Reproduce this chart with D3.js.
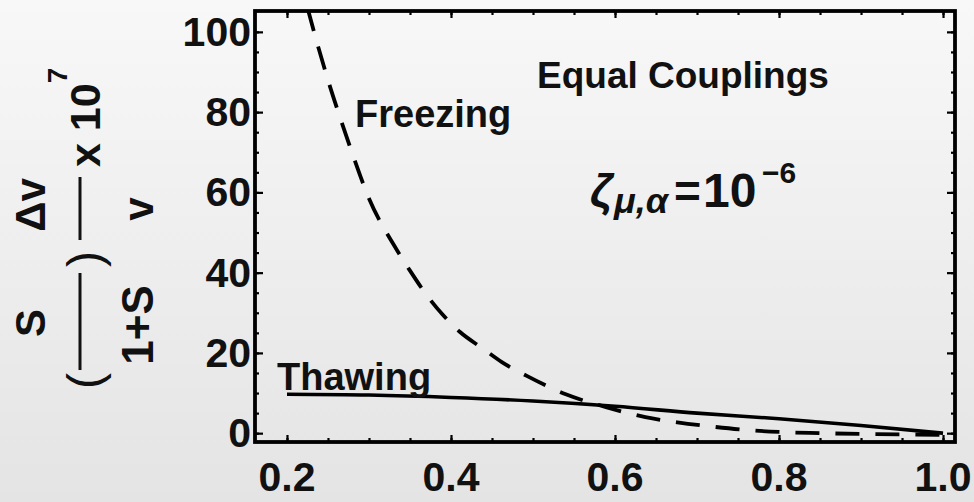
<!DOCTYPE html>
<html lang="en">
<head>
<meta charset="utf-8" />
<title>Equal Couplings</title>
<script src="https://d3js.org/d3.v7.min.js"></script>
<style>
  body { margin: 0; background: #eee; overflow: hidden; }
  svg text { font-family: "Liberation Sans", Arial, Helvetica, sans-serif; font-weight: bold; fill: #111; }
</style>
</head>
<body>
<script>
// scale factor a (x) and the relative shift (y, in units of 1e-7)
var thawA   = [0.2, 0.3, 0.4, 0.5, 0.6, 0.7, 0.8, 0.9, 1.0];
var thawVal = [9.7, 9.5, 8.9, 8.0, 6.7, 5.0, 3.6, 1.9, 0];

var freezeA   = [0.225, 0.235, 0.25, 0.265, 0.28, 0.30, 0.33, 0.35, 0.37, 0.39, 0.411, 0.438,
                 0.462, 0.493, 0.54, 0.589, 0.637, 0.676, 0.72, 0.76, 0.8, 0.85, 0.9, 0.95, 1.0];
var freezeVal = [106, 98.5, 88, 78.5, 69.5, 58.5, 47, 40.5, 34.5, 29.5, 25.2, 21.2,
                 17.7, 14.2, 9.7, 6.5, 4.0, 2.7, 1.6, 0.8, 0.3, 0, -0.2, -0.3, -0.4];

var xTicks = [0.2, 0.4, 0.6, 0.8, 1.0];
var xTickLabels = ["0.2", "0.4", "0.6", "0.8", "1.0"];
var yTicks = [0, 20, 40, 60, 80, 100];
var yTickLabels = ["0", "20", "40", "60", "80", "100"];

var w = 974, h = 502;
var pL = 255, pR = 955, pT = 11, pB = 442;

var x = d3.scaleLinear().domain([0.161, 1.0146]).range([pL, pR]);
var y = d3.scaleLinear().domain([-2.2, 105.2]).range([pB, pT]);

var svg = d3.select("body").append("svg")
  .attr("width", w)
  .attr("height", h);

var defs = svg.append("defs");
var grad = defs.append("linearGradient")
  .attr("id", "bg").attr("x1", 0).attr("y1", 0).attr("x2", 0).attr("y2", 1);
grad.append("stop").attr("offset", "0%").attr("stop-color", "#f8f8f8");
grad.append("stop").attr("offset", "100%").attr("stop-color", "#e4e4e4");

defs.append("clipPath").attr("id", "plot")
  .append("rect")
  .attr("x", pL).attr("y", pT)
  .attr("width", pR - pL).attr("height", pB - pT);

svg.append("rect")
  .attr("width", w).attr("height", h)
  .attr("fill", "url(#bg)");

// minor ticks
var xMinor = d3.range(0.2, 1.001, 0.05);
var yMinor = d3.range(0, 101, 5);

function tickAxis(axis, pos, ticks, size) {
  var g = svg.append("g")
    .attr("transform", pos)
    .call(axis.tickValues(ticks).tickSize(size).tickFormat(""));
  g.select(".domain").remove();
  g.selectAll("line").attr("stroke", "#000").attr("stroke-width", 2.2);
  return g;
}

tickAxis(d3.axisBottom(x), "translate(0," + pB + ")", xMinor, -4);
tickAxis(d3.axisBottom(x), "translate(0," + pB + ")", xTicks, -7);
tickAxis(d3.axisTop(x), "translate(0," + pT + ")", xMinor, -4);
tickAxis(d3.axisTop(x), "translate(0," + pT + ")", xTicks, -7);
tickAxis(d3.axisLeft(y), "translate(" + pL + ",0)", yMinor, -4);
tickAxis(d3.axisLeft(y), "translate(" + pL + ",0)", yTicks, -8);
tickAxis(d3.axisRight(y), "translate(" + pR + ",0)", yMinor, -4);
tickAxis(d3.axisRight(y), "translate(" + pR + ",0)", yTicks, -8);

// tick labels
svg.selectAll(".xl")
  .data(xTicks)
  .enter().append("text")
  .attr("x", function(d){ return x(d); })
  .attr("y", 491)
  .attr("text-anchor", "middle")
  .style("font-size", "41px")
  .text(function(d, i){ return xTickLabels[i]; });

svg.selectAll(".yl")
  .data(yTicks)
  .enter().append("text")
  .attr("x", 251)
  .attr("y", function(d){ return y(d) + 14; })
  .attr("text-anchor", "end")
  .style("font-size", "41px")
  .text(function(d, i){ return yTickLabels[i]; });

// curves
var line = d3.line()
  .x(function(d){ return x(d[0]); })
  .y(function(d){ return y(d[1]); })
  .curve(d3.curveMonotoneX);

var plot = svg.append("g").attr("clip-path", "url(#plot)");

plot.append("path")
  .attr("d", line(d3.zip(freezeA, freezeVal)))
  .attr("fill", "none")
  .attr("stroke", "#000")
  .attr("stroke-width", 3.8)
  .attr("stroke-dasharray", "24,16");

plot.append("path")
  .attr("d", line(d3.zip(thawA, thawVal)))
  .attr("fill", "none")
  .attr("stroke", "#000")
  .attr("stroke-width", 3.6);

// frame
svg.append("rect")
  .attr("x", pL).attr("y", pT)
  .attr("width", pR - pL).attr("height", pB - pT)
  .attr("fill", "none")
  .attr("stroke", "#000")
  .attr("stroke-width", 3.8);

// annotations
svg.append("text").attr("x", 355).attr("y", 127).style("font-size", "38px").text("Freezing");
svg.append("text").attr("x", 277).attr("y", 390).style("font-size", "38px").text("Thawing");
svg.append("text").attr("x", 537).attr("y", 88).style("font-size", "37px").text("Equal Couplings");

var zeta = svg.append("text").attr("y", 207);
zeta.append("tspan").attr("x", 590).style("font-size", "46px").style("font-style", "italic").text("ζ");
zeta.append("tspan").attr("x", 614).attr("dy", 6).style("font-size", "36px").style("font-style", "italic").text("μ,α");
zeta.append("tspan").attr("x", 674).attr("dy", -6).style("font-size", "46px").text("=");
zeta.append("tspan").attr("x", 703).style("font-size", "48px").text("10");
zeta.append("tspan").attr("x", 762).attr("dy", -24).style("font-size", "30px").text("−6");

// y axis label, rotated
var lab = svg.append("g").attr("transform", "translate(80,433) rotate(-90)");
lab.append("text").attr("x", 52).attr("y", 21).attr("text-anchor", "middle")
  .style("font-size", "48px").style("font-weight", "normal").text("(");
lab.append("line").attr("x1", 63).attr("x2", 160).attr("y1", 0).attr("y2", 0)
  .attr("stroke", "#111").attr("stroke-width", 3);
lab.append("text").attr("x", 110).attr("y", -35).attr("text-anchor", "middle")
  .style("font-size", "42px").text("S");
lab.append("text").attr("x", 108).attr("y", 73).attr("text-anchor", "middle")
  .style("font-size", "44px").text("1+S");
lab.append("text").attr("x", 174).attr("y", 21).attr("text-anchor", "middle")
  .style("font-size", "48px").style("font-weight", "normal").text(")");
lab.append("line").attr("x1", 193).attr("x2", 256).attr("y1", 0).attr("y2", 0)
  .attr("stroke", "#111").attr("stroke-width", 3);
lab.append("text").attr("x", 228).attr("y", -35).attr("text-anchor", "middle")
  .style("font-size", "42px").text("Δv");
lab.append("text").attr("x", 224).attr("y", 73).attr("text-anchor", "middle")
  .style("font-size", "42px").text("v");
var xten = lab.append("text").attr("x", 266).attr("y", 20).style("font-size", "43px");
xten.append("tspan").text("x 10");
xten.append("tspan").attr("dy", -33).style("font-size", "28px").text("7");
</script>
</body>
</html>
